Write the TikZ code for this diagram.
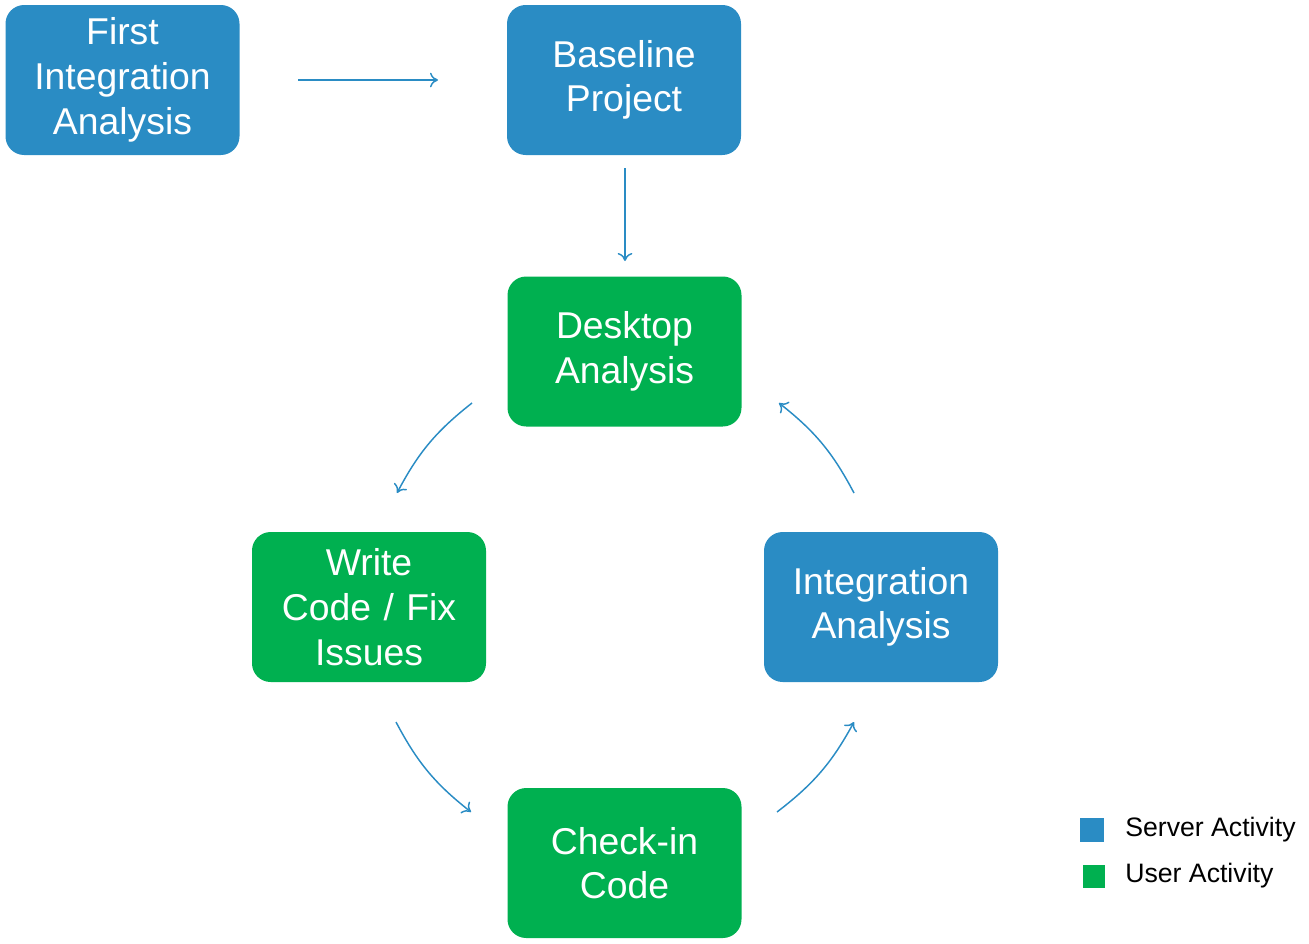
\documentclass[tikz,border=0pt]{standalone}
\usepackage{fontspec}
\setmainfont{Liberation Sans}
\usetikzlibrary{arrows.meta}
\definecolor{srv}{HTML}{2A8CC4}
\definecolor{usr}{HTML}{00B050}
\begin{document}
\begin{tikzpicture}[x=0.75pt,y=-0.75pt,
 box/.style={rounded corners=14pt,minimum width=175.5pt,minimum height=112.5pt,text width=170pt,align=center,text=white,font=\fontsize{28}{33.5}\selectfont,inner sep=0pt},
 srvbox/.style={box,fill=srv},
 usrbox/.style={box,fill=usr},
 arr/.style={draw=srv,line width=1.1pt,-{To[length=6pt,width=11pt]}},
 leg/.style={font=\fontsize{20}{24}\selectfont,anchor=west,inner sep=0pt}]
\useasboundingbox (0,0) rectangle (1309,943);
\node[srvbox] (fia) at (122.5,80) {First\\Integration\\Analysis};
\node[srvbox] (bp) at (624,80) {Baseline\\Project};
\node[usrbox] (da) at (624.5,351.5) {Desktop\\Analysis};
\node[usrbox] (wc) at (369,607) {Write\\Code / Fix\\Issues};
\node[srvbox] (ia) at (881,607) {Integration\\Analysis};
\node[usrbox] (ci) at (624.5,863) {Check-in\\Code};
\coordinate (a1) at (298,80); \coordinate (a2) at (438,80);
\coordinate (b1) at (625,168); \coordinate (b2) at (625,261);
\coordinate (c1) at (472,403); \coordinate (c2) at (397,493);
\coordinate (d1) at (396,722); \coordinate (d2) at (471,812);
\coordinate (e1) at (777,812); \coordinate (e2) at (854,722);
\coordinate (f1) at (854,493); \coordinate (f2) at (779,403);
\draw[arr] (a1) -- (a2);
\draw[arr] (b1) -- (b2);
\draw[arr] (c1) to[bend right=12] (c2);
\draw[arr] (d1) to[bend right=12] (d2);
\draw[arr] (e1) to[bend right=12] (e2);
\draw[arr] (f1) to[bend right=12] (f2);
\node[fill=srv,minimum size=18pt,inner sep=0pt] (ls) at (1092,829.5) {};
\node[fill=usr,minimum size=17pt,inner sep=0pt] (lu) at (1094,876.5) {};
\node[leg] (lst) at (1125,830) {Server Activity};
\node[leg] (lut) at (1125,876) {User Activity};
\end{tikzpicture}
\end{document}
